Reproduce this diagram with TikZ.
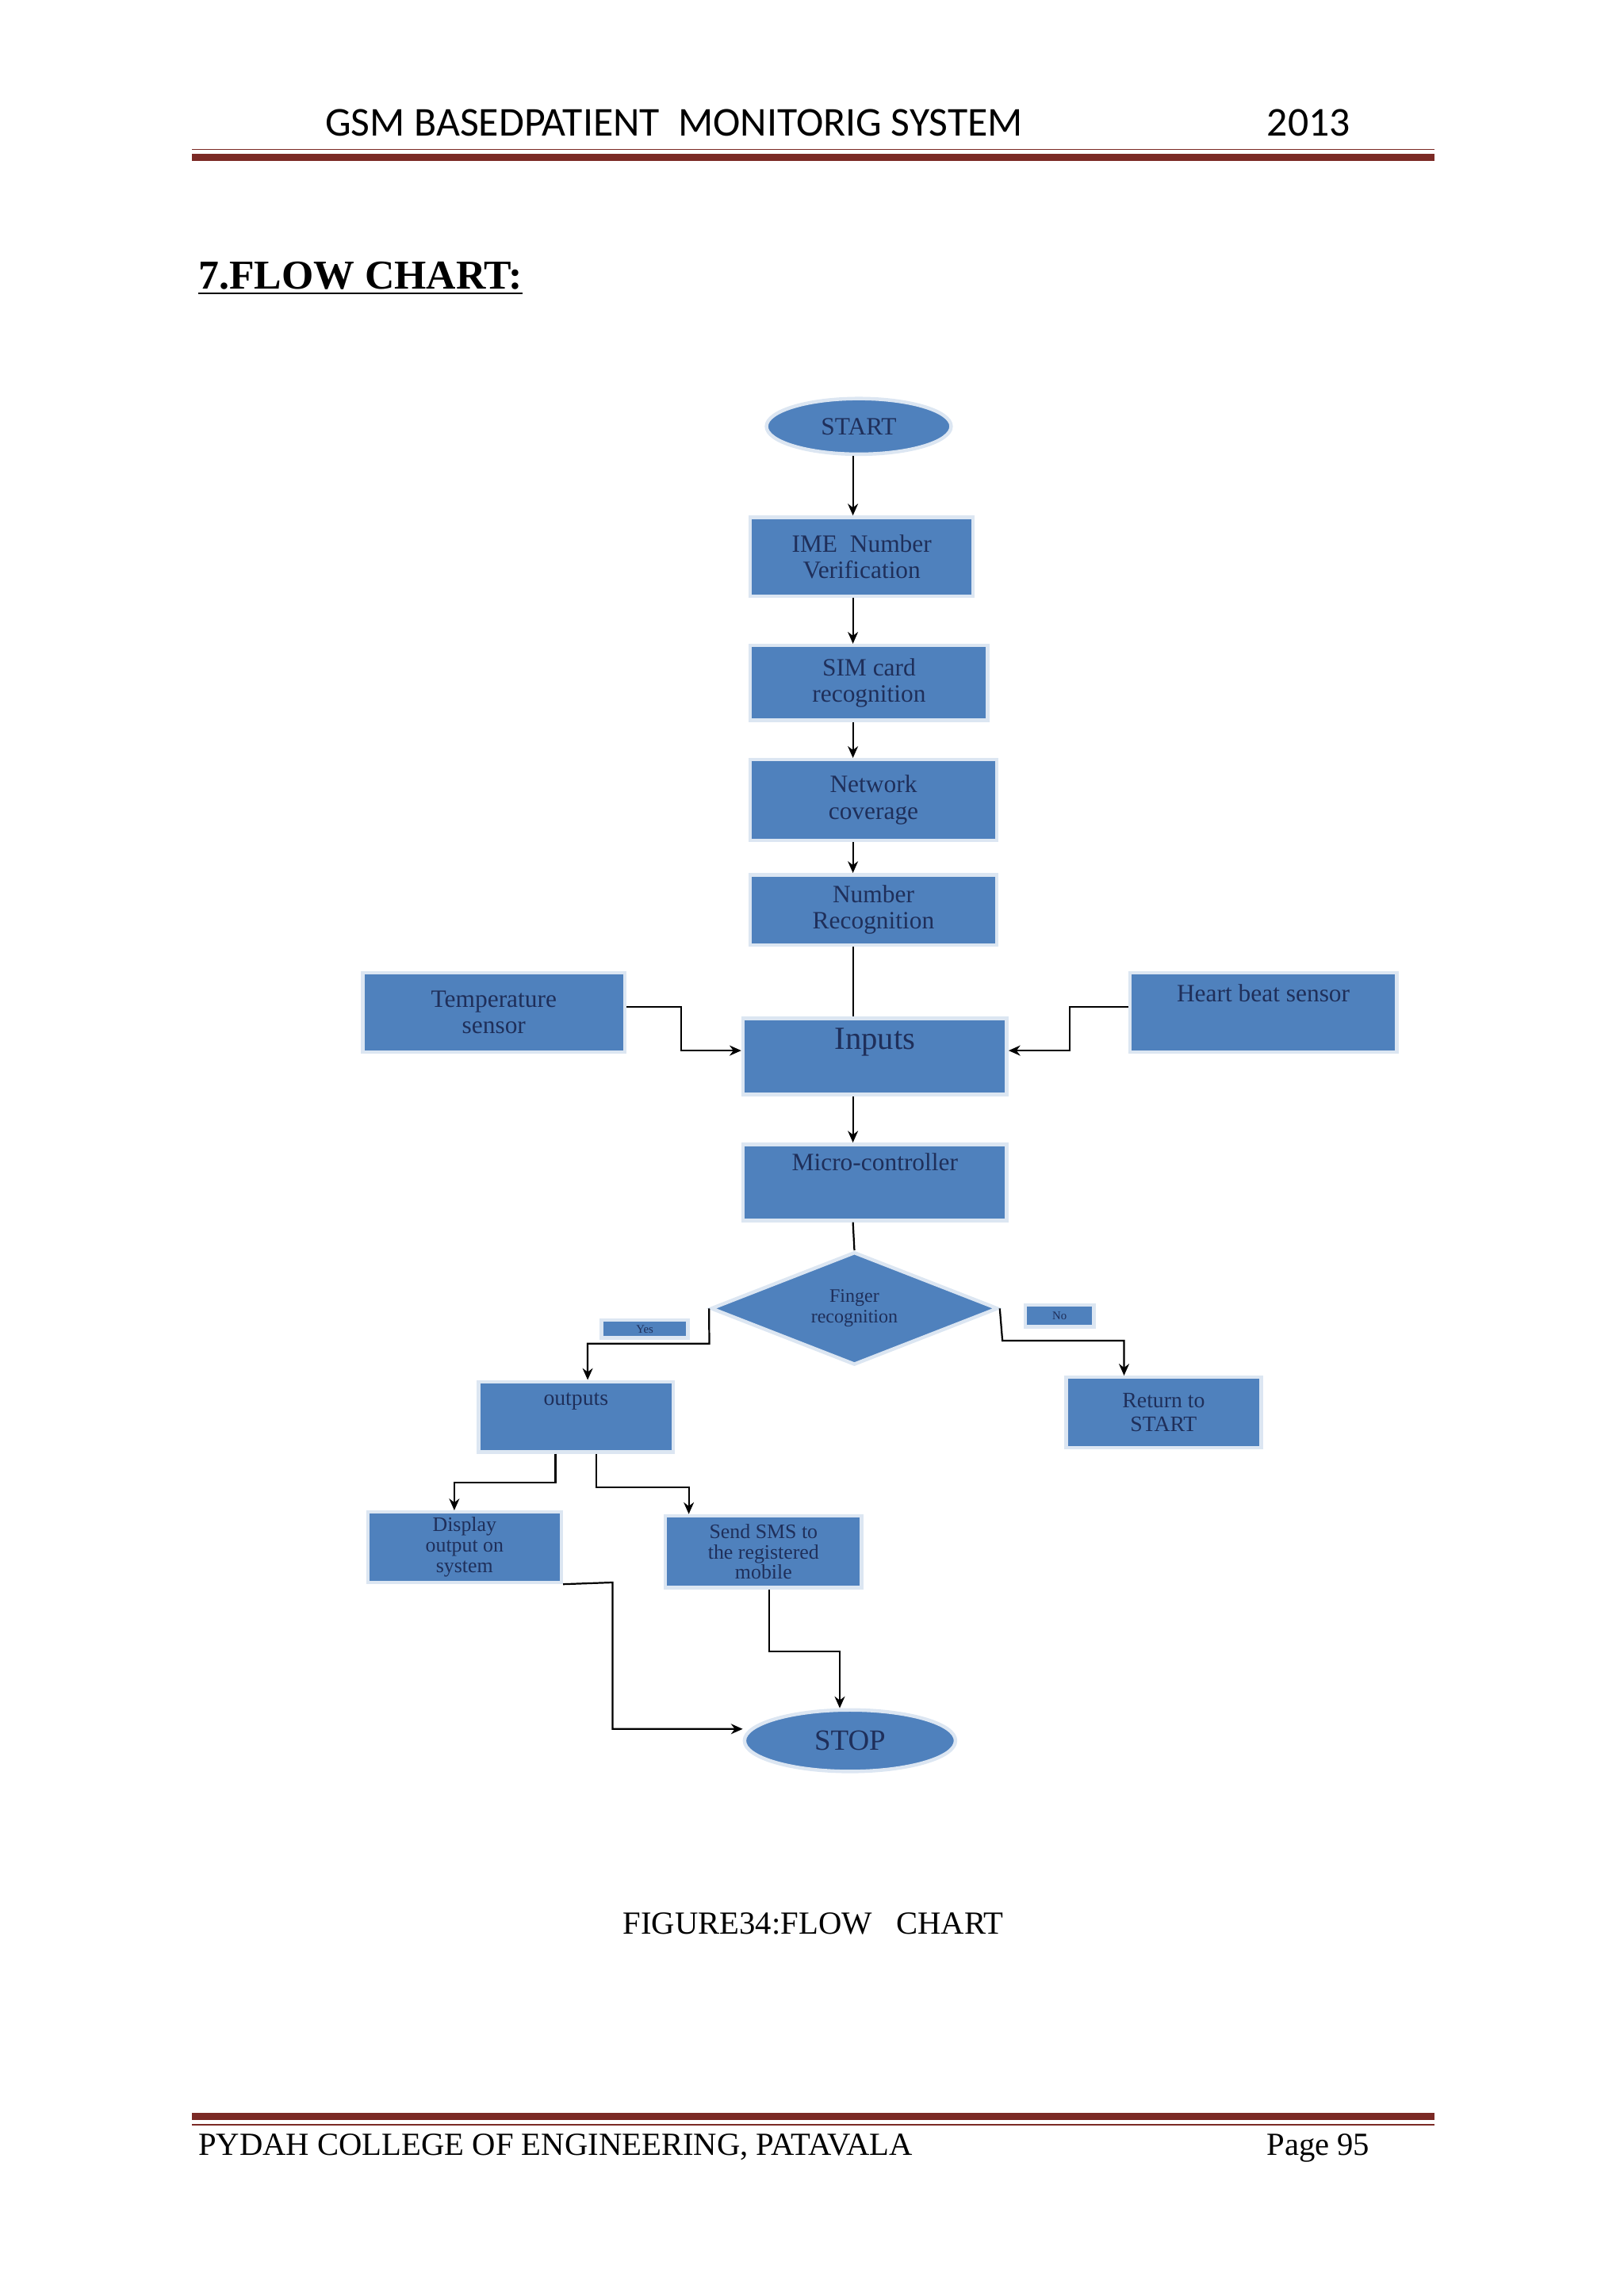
\documentclass[tikz,border=0pt]{standalone}
\usepackage{fontspec}
\setmainfont{Liberation Serif}
\newfontfamily\hdr{Carlito}
\usetikzlibrary{shapes.geometric,arrows.meta}
\definecolor{bfill}{HTML}{4F81BD}
\definecolor{btext}{HTML}{1F2F5A}
\definecolor{rule}{HTML}{7B2A25}
\begin{document}
\begin{tikzpicture}[x=0.5pt,y=-0.5pt,
  blk/.style={draw=white!80!bfill,line width=1.2pt,fill=bfill,text=btext,inner sep=1pt,font=\fontsize{8.5}{9}\selectfont,align=center},
  bx/.style={blk,rectangle,minimum width=#1*0.5pt},
  ov/.style={blk,ellipse},
  arr/.style={-{Stealth[length=4pt,width=3.5pt]},line width=0.6pt},
  ln/.style={line width=0.6pt}]
\useasboundingbox (0,0) rectangle (1108,1567);
% header
\node[font=\hdr\fontsize{14}{16}\selectfont,anchor=base] (h1) at (460,93) {GSM BASEDPATIENT\ \ MONITORIG SYSTEM};
\node[font=\hdr\fontsize{14}{16}\selectfont,anchor=base] (h2) at (893,93) {2013};
\fill[rule] (131,105) rectangle (979,110);
\draw[rule,line width=0.4pt] (131,102) -- (979,102);
\node[font=\bfseries\fontsize{14}{16}\selectfont,anchor=base west,inner sep=0] (ttl) at (135,197) {\underline{7.FLOW CHART:}};
% nodes
\node[ov,minimum width=63pt,minimum height=19pt] (start) at (586,291) {START};
\node[bx=152,minimum height=27pt] (ime) at (588,380) {IME\ \ Number\\Verification};
\node[bx=162,minimum height=25.5pt] (sim) at (593,466) {SIM card\\recognition};
\node[bx=168,minimum height=27.5pt] (net) at (596,546) {Network\\coverage};
\node[bx=168,minimum height=24pt] (num) at (596,621) {Number\\Recognition};
\node[bx=179,minimum height=27pt] (temp) at (337,691) {Temperature\\sensor};
\node[bx=182,minimum height=27pt,text depth=13pt] (heart) at (862,691) {Heart beat sensor};
\node[bx=180,minimum height=26pt,font=\fontsize{11}{12}\selectfont,text depth=12pt] (inp) at (597,721) {Inputs};
\node[bx=180,minimum height=26pt,text depth=14pt] (mc) at (597,807) {Micro-controller};
\node[blk,diamond,minimum width=98pt,minimum height=38.5pt,aspect=2.5,font=\fontsize{6.5}{7}\selectfont] (fin) at (583,893) {Finger\\recognition};
\node[bx=59,minimum height=6pt,font=\fontsize{4}{4}\selectfont] (yes) at (440,907) {Yes};
\node[bx=47,minimum height=7.5pt,font=\fontsize{4}{4}\selectfont] (no) at (723,898) {No};
\node[bx=133,minimum height=24pt,text depth=12pt,font=\fontsize{7.5}{8}\selectfont] (out) at (393,967) {outputs};
\node[bx=133,minimum height=24pt,font=\fontsize{7.5}{8}\selectfont] (ret) at (794,964) {Return to\\START};
\node[bx=132,minimum height=24pt,font=\fontsize{7}{7}\selectfont] (disp) at (317,1056) {Display\\output on\\system};
\node[bx=134,minimum height=24.5pt,font=\fontsize{7}{7}\selectfont] (sms) at (521,1059) {Send SMS to\\the registered\\mobile};
\node[ov,minimum width=72pt,minimum height=21pt,font=\fontsize{10}{11}\selectfont] (stop) at (580,1188) {STOP};
% connectors
\draw[arr] (start.south -| 582,0) -- (ime.north -| 582,0);
\draw[arr] (ime.south -| 582,0) -- (sim.north -| 582,0);
\draw[arr] (sim.south -| 582,0) -- (net.north -| 582,0);
\draw[arr] (net.south -| 582,0) -- (num.north -| 582,0);
\draw[ln] (num.south -| 582,0) -- (inp.north -| 582,0);
\draw[arr] (temp.east |- 0,687) -- (465,687) -- (465,717) -- (inp.west |- 0,717);
\draw[arr] (heart.west |- 0,687) -- (730,687) -- (730,717) -- (inp.east |- 0,717);
\draw[arr] (inp.south -| 582,0) -- (mc.north -| 582,0);
\draw[ln] (mc.south -| 582,0) -- (fin.north);
\draw[arr] (fin.west) -- (484,917) -- (401,917) -- (out.north -| 401,0);
\draw[arr] (fin.east) -- (684,915) -- (767,915) -- (ret.north -| 767,0);
\draw[arr] (out.south -| 379,0) -- (379,1012) -- (310,1012) -- (disp.north -| 310,0);
\draw[arr] (out.south -| 407,0) -- (407,1015) -- (470,1015) -- (sms.north -| 470,0);
\draw[arr] (disp.south east) -- (418,1080) -- (418,1180) -- (stop.west |- 0,1180);
\draw[arr] (sms.south -| 525,0) -- (525,1127) -- (573,1127) -- (stop.north -| 573,0);
% caption and footer
\node[font=\fontsize{11}{13}\selectfont,anchor=base] (cap) at (555,1320) {FIGURE34:FLOW\ \ \ CHART};
\fill[rule] (131,1442) rectangle (979,1447);
\draw[rule,line width=0.4pt] (131,1450) -- (979,1450);
\node[font=\fontsize{11}{13}\selectfont,anchor=base west,inner sep=0] (f1) at (135,1471) {PYDAH COLLEGE OF ENGINEERING, PATAVALA};
\node[font=\fontsize{11}{13}\selectfont,anchor=base east,inner sep=0] (f2) at (935,1471) {Page 95};
\end{tikzpicture}
\end{document}
